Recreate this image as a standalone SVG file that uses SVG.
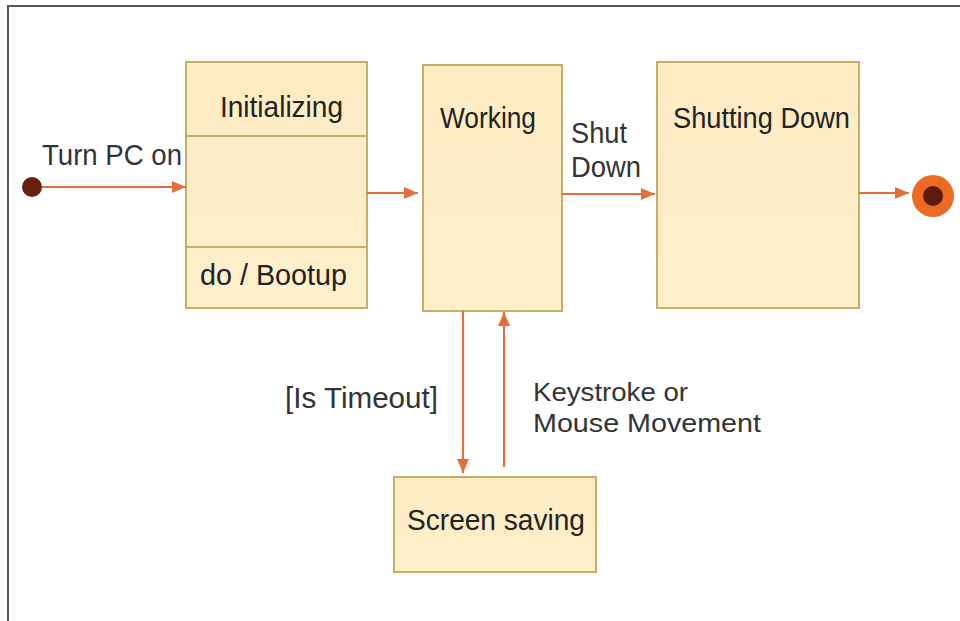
<svg xmlns="http://www.w3.org/2000/svg" width="960" height="621" viewBox="0 0 960 621">
  <defs>
    <linearGradient id="stateFill" x1="0" y1="0" x2="0" y2="1">
      <stop offset="0" stop-color="#FDEBC2"/>
      <stop offset="1" stop-color="#FEF0CC"/>
    </linearGradient>
    <marker id="arrow" viewBox="0 0 14 12" refX="14" refY="6" markerWidth="14" markerHeight="12" markerUnits="userSpaceOnUse" orient="auto">
      <path d="M0,0 L14,6 L0,12 Z" fill="#E2703A"/>
    </marker>
  </defs>
  <style>
    .state { fill: url(#stateFill); stroke: #C8AC6A; stroke-width: 2; }
    .divider { stroke: #C8AC6A; stroke-width: 2; }
    .edge { fill: none; stroke: #E2703A; stroke-width: 2.2; marker-end: url(#arrow); }
    .lbl { font-family: "Liberation Sans", Arial, sans-serif; font-size: 29px; fill: #222; }
    .elbl { font-family: "Liberation Sans", Arial, sans-serif; font-size: 29px; fill: #333; }
    .elbl.tight { font-size: 26px; }
  </style>

  <rect width="960" height="621" fill="#FFFFFF"/>
  <!-- outer frame -->
  <path d="M8,621 L8,6 L960,6" fill="none" stroke="#555555" stroke-width="2"/>

  <!-- states -->
  <g id="initial">
    <circle cx="32" cy="187" r="10" fill="#6A1F0E"/>
  </g>

  <g id="initializing">
    <rect class="state" x="186" y="62" width="181" height="246"/>
    <line class="divider" x1="186" y1="136" x2="367" y2="136"/>
    <line class="divider" x1="186" y1="247" x2="367" y2="247"/>
    <text class="lbl" x="220" y="117" textLength="123" lengthAdjust="spacingAndGlyphs">Initializing</text>
    <text class="lbl" x="200" y="285" textLength="147" lengthAdjust="spacingAndGlyphs">do / Bootup</text>
  </g>

  <g id="working">
    <rect class="state" x="423" y="65" width="139" height="246"/>
    <text class="lbl" x="440" y="128" textLength="96" lengthAdjust="spacingAndGlyphs">Working</text>
  </g>

  <g id="shutting-down">
    <rect class="state" x="657" y="62" width="202" height="246"/>
    <text class="lbl" x="673" y="128" textLength="177" lengthAdjust="spacingAndGlyphs">Shutting Down</text>
  </g>

  <g id="screen-saving">
    <rect class="state" x="394" y="477" width="202" height="95"/>
    <text class="lbl" x="407" y="530" textLength="178" lengthAdjust="spacingAndGlyphs">Screen saving</text>
  </g>

  <g id="final">
    <circle cx="933" cy="196" r="21" fill="#EE6A22"/>
    <circle cx="933" cy="196" r="10" fill="#5C1B10"/>
  </g>

  <!-- transitions -->
  <g id="connectors">
    <line class="edge" x1="42" y1="187" x2="186" y2="187"/>
    <line class="edge" x1="367" y1="193" x2="418" y2="193"/>
    <line class="edge" x1="562" y1="194" x2="655" y2="194"/>
    <line class="edge" x1="859" y1="193" x2="909" y2="193"/>
    <line class="edge" x1="463" y1="311" x2="463" y2="473"/>
    <line class="edge" x1="504" y1="467" x2="504" y2="312"/>
  </g>

  <!-- transition labels -->
  <g id="labels">
    <text class="elbl" x="42" y="165" textLength="140" lengthAdjust="spacingAndGlyphs">Turn PC on</text>
    <text class="elbl" x="571" y="143" textLength="56" lengthAdjust="spacingAndGlyphs">Shut</text>
    <text class="elbl" x="571" y="177" textLength="70" lengthAdjust="spacingAndGlyphs">Down</text>
    <text class="elbl" x="285" y="408" textLength="153" lengthAdjust="spacingAndGlyphs">[Is Timeout]</text>
    <text class="elbl tight" x="533" y="401" textLength="155" lengthAdjust="spacingAndGlyphs">Keystroke or</text>
    <text class="elbl tight" x="533" y="432" textLength="228" lengthAdjust="spacingAndGlyphs">Mouse Movement</text>
  </g>
</svg>
